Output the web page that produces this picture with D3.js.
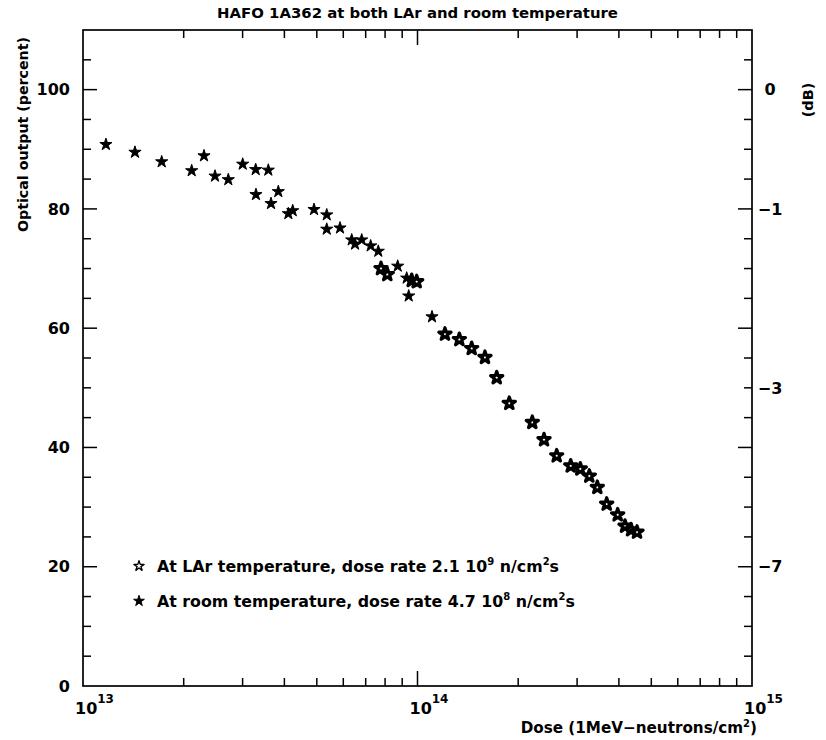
<!DOCTYPE html>
<html>
<head>
<meta charset="utf-8">
<script src="https://cdn.jsdelivr.net/npm/d3@7"></script>
<style>
  html, body { margin: 0; padding: 0; background: #fff; }
  svg text { font-family: "DejaVu Sans", "Noto Sans", sans-serif; fill: #000; }
</style>
</head>
<body>
<svg id="chart" width="826" height="740"></svg>
<script>
// Optical output versus neutron dose, HAFO 1A362
const doseRoom = [1.171e13, 1.430e13, 1.719e13, 2.113e13, 2.300e13, 2.481e13, 2.719e13, 3.002e13,
  3.283e13, 3.581e13, 3.289e13, 3.836e13, 3.648e13, 4.110e13, 4.236e13, 4.905e13, 5.354e13,
  5.354e13, 5.866e13, 6.358e13, 6.505e13, 6.811e13, 7.245e13, 7.634e13, 8.726e13, 9.283e13,
  9.413e13, 1.105e14];
const outRoom = [90.8, 89.5, 87.9, 86.4, 88.9, 85.5, 84.9, 87.5,
  86.6, 86.5, 82.4, 82.9, 80.9, 79.2, 79.7, 79.9, 79.0,
  76.6, 76.8, 74.8, 74.1, 74.8, 73.8, 72.9, 70.4, 68.4,
  65.4, 61.9];

const doseLAr = [7.778e13, 8.123e13, 9.609e13, 9.945e13, 1.208e14, 1.334e14, 1.452e14, 1.591e14,
  1.725e14, 1.881e14, 2.204e14, 2.389e14, 2.607e14, 2.871e14, 3.067e14, 3.263e14, 3.448e14,
  3.678e14, 3.967e14, 4.172e14, 4.349e14, 4.532e14];
const outLAr = [70.0, 69.0, 68.0, 67.8, 59.0, 58.1, 56.6, 55.1,
  51.7, 47.4, 44.2, 41.3, 38.6, 36.9, 36.4, 35.2, 33.3,
  30.5, 28.7, 26.8, 26.2, 25.8];

const yTickLabels = [0, 20, 40, 60, 80, 100];
const dbTickPercent = [100, 80, 50, 20];
const dbTickLabels = ["0", "\u22121", "\u22123", "\u22127"];
const xDecades = [13, 14, 15];

const title = "HAFO 1A362 at both LAr and room temperature";
const yTitle = "Optical output (percent)";
const dbTitle = "(dB)";
const legendLAr = ["At LAr temperature, dose rate 2.1 10", "9", " n/cm", "2", "s"];
const legendRoom = ["At room temperature, dose rate 4.7 10", "8", " n/cm", "2", "s"];

const svg = d3.select("#chart");
const pLeft = 83, pRight = 752, pTop = 30, pBottom = 686;

const x = d3.scaleLog().domain([1e13, 1e15]).range([pLeft, pRight]);
const y = d3.scaleLinear().domain([0, 110]).range([pBottom, pTop]);

// frame
svg.append("rect")
  .attr("x", pLeft).attr("y", pTop)
  .attr("width", pRight - pLeft).attr("height", pBottom - pTop)
  .attr("fill", "none").attr("stroke", "#000").attr("stroke-width", 1.7);

// log ticks on bottom and top
const xTicks = [];
for (let d = 13; d < 15; d++) {
  for (let m = 2; m <= 9; m++) xTicks.push({ v: m * Math.pow(10, d), major: false });
}
xTicks.push({ v: 1e14, major: true });

const tickG = svg.append("g").attr("stroke", "#000").attr("stroke-width", 1.5);
xTicks.forEach(t => {
  const len = t.major ? 15 : 8;
  tickG.append("line").attr("x1", x(t.v)).attr("x2", x(t.v))
    .attr("y1", pBottom).attr("y2", pBottom - len);
  tickG.append("line").attr("x1", x(t.v)).attr("x2", x(t.v))
    .attr("y1", pTop).attr("y2", pTop + len);
});

// linear ticks every 5 percent on left and right
d3.range(5, 110, 5).forEach(v => {
  const len = v % 20 === 0 ? 14 : 8;
  tickG.append("line").attr("x1", pLeft).attr("x2", pLeft + len)
    .attr("y1", y(v)).attr("y2", y(v));
  tickG.append("line").attr("x1", pRight).attr("x2", pRight - len)
    .attr("y1", y(v)).attr("y2", y(v));
});

// left tick labels
svg.append("g").selectAll("text").data(yTickLabels).join("text")
  .attr("x", 70).attr("y", d => y(d)).attr("dy", "0.36em")
  .attr("text-anchor", "end").attr("font-size", 16).attr("font-weight", 700)
  .text(d => d);

// right dB labels
svg.append("g").selectAll("text").data(dbTickPercent).join("text")
  .attr("x", 770).attr("y", d => y(d)).attr("dy", "0.36em")
  .attr("text-anchor", "middle").attr("font-size", 16).attr("font-weight", 700)
  .text((d, i) => dbTickLabels[i]);

// decade labels with superscript exponent
xDecades.forEach(e => {
  const t = svg.append("text")
    .attr("x", x(Math.pow(10, e)) - 8).attr("y", 714)
    .attr("font-size", 16).attr("font-weight", 700);
  t.append("tspan").text("10");
  t.append("tspan").attr("dy", -11).attr("font-size", 12).text(e);
});

// titles
svg.append("text").attr("x", (pLeft + pRight) / 2).attr("y", 18)
  .attr("text-anchor", "middle").attr("font-size", 14.9).attr("font-weight", 700)
  .text(title);

svg.append("text")
  .attr("transform", "translate(28,232) rotate(-90)")
  .attr("font-size", 14.2).attr("font-weight", 700)
  .text(yTitle);

svg.append("text")
  .attr("transform", "translate(813,100) rotate(-90)")
  .attr("text-anchor", "middle")
  .attr("font-size", 14.5).attr("font-weight", 700)
  .text(dbTitle);

const xt = svg.append("text").attr("x", 757).attr("y", 733)
  .attr("text-anchor", "end").attr("font-size", 15.2).attr("font-weight", 700);
xt.append("tspan").text("Dose (1MeV\u2212neutrons/cm");
xt.append("tspan").attr("dy", -6).attr("font-size", 10).text("2");
xt.append("tspan").attr("dy", 6).text(")");

// markers
const star = d3.symbol().type(d3.symbolStar).size(46);

svg.append("g").selectAll("path").data(doseRoom.map((d, i) => [d, outRoom[i]])).join("path")
  .attr("transform", d => `translate(${x(d[0])},${y(d[1])})`)
  .attr("d", star).attr("fill", "#000").attr("stroke", "#000").attr("stroke-width", 1)
  .attr("stroke-linejoin", "round");

svg.append("g").selectAll("path").data(doseLAr.map((d, i) => [d, outLAr[i]])).join("path")
  .attr("transform", d => `translate(${x(d[0])},${y(d[1])})`)
  .attr("d", star).attr("fill", "#fff").attr("stroke", "#000").attr("stroke-width", 3.2)
  .attr("stroke-linejoin", "round");

// legend
function legendRow(yPos, parts, filled) {
  const sym = d3.symbol().type(d3.symbolStar).size(filled ? 36 : 32);
  svg.append("path").attr("transform", `translate(139,${yPos})`).attr("d", sym)
    .attr("fill", filled ? "#000" : "#fff").attr("stroke", "#000")
    .attr("stroke-width", filled ? 1 : 1.4).attr("stroke-linejoin", "round");
  const t = svg.append("text").attr("x", 157).attr("y", yPos).attr("dy", "0.36em")
    .attr("font-size", 15.8).attr("font-weight", 700);
  t.append("tspan").text(parts[0]);
  t.append("tspan").attr("dy", -7).attr("font-size", 10).text(parts[1]);
  t.append("tspan").attr("dy", 7).text(parts[2]);
  t.append("tspan").attr("dy", -7).attr("font-size", 10).text(parts[3]);
  t.append("tspan").attr("dy", 7).text(parts[4]);
}
legendRow(566, legendLAr, false);
legendRow(601, legendRoom, true);
</script>
</body>
</html>
